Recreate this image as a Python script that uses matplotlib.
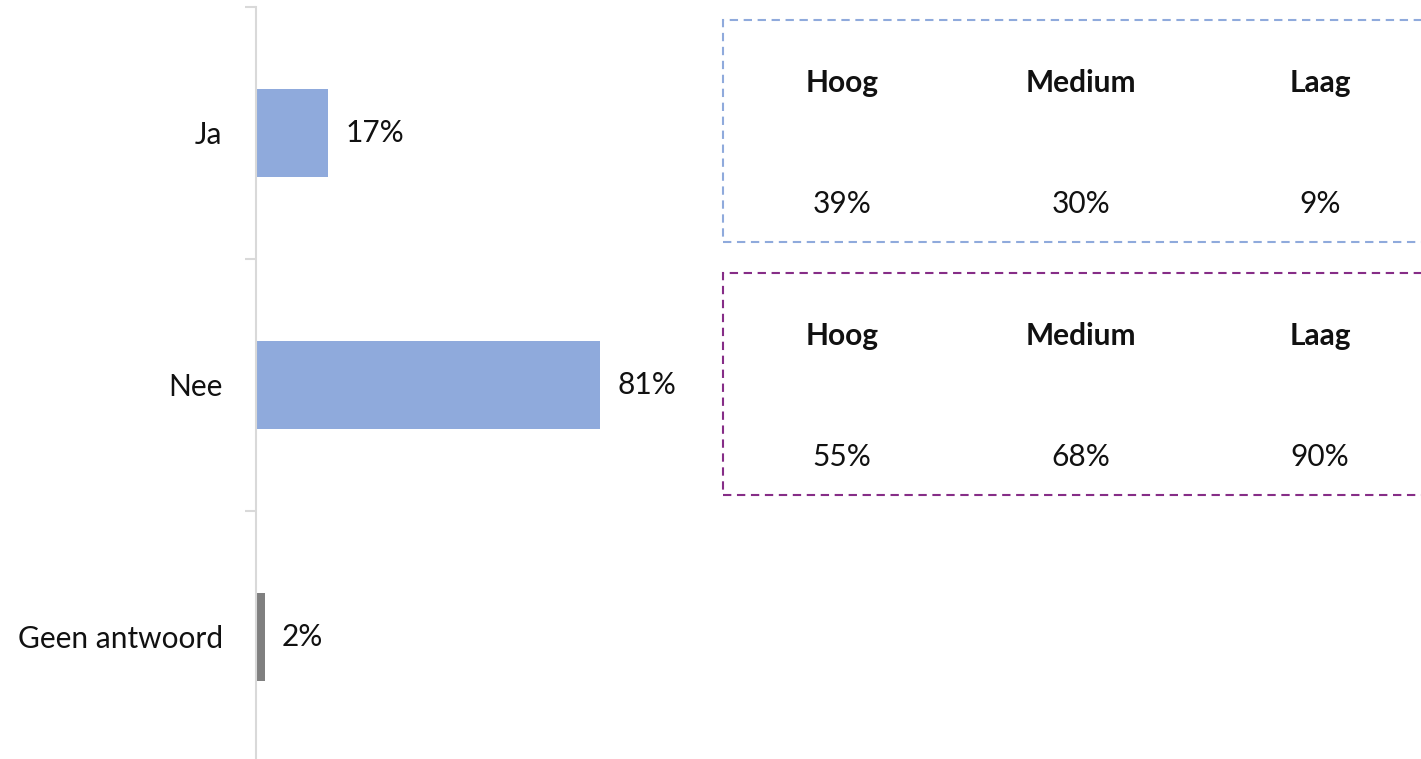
import matplotlib.pyplot as plt
from matplotlib.patches import Rectangle

plt.rcParams['font.family'] = ['Lato', 'DejaVu Sans']

categories = ['Ja', 'Nee', 'Geen antwoord']
values = [17, 81, 2]
bar_colors = ['#8FAADC', '#8FAADC', '#808080']

groups = ['Hoog', 'Medium', 'Laag']
ja_by_group = [39, 30, 9]
nee_by_group = [55, 68, 90]

W, H = 1421, 759
fig = plt.figure(figsize=(W / 100, H / 100), dpi=100)

# bar axes in pixel terms: left edge 256, 4.25 px per percent, bands of 252 px
ax_left, ax_w = 256, 425
ax_top, ax_bot = 7, 763
ax = fig.add_axes([ax_left / W, (H - ax_bot) / H, ax_w / W, (ax_bot - ax_top) / H])
ax.set_xlim(0, 100)
ax.set_ylim(2.5, -0.5)

ypos = list(range(len(categories)))
ax.barh(ypos, values, height=0.353, color=bar_colors)
for y, v in zip(ypos, values):
    ax.text(v + 4, y, f'{v}%', va='center', ha='left', fontsize=21.5, color='#111111')

for side in ['top', 'right', 'bottom']:
    ax.spines[side].set_visible(False)
ax.spines['left'].set_color('#D9D9D9')
ax.spines['left'].set_linewidth(1.5)
ax.set_xticks([])
ax.set_yticks([-0.5, 0.5, 1.5, 2.5], minor=False)
ax.set_yticklabels([])
ax.tick_params(axis='y', length=8, color='#D9D9D9', width=1.5)
ax.set_yticks(ypos, minor=True)
ax.set_yticklabels(categories, minor=True, fontsize=21.5, color='#111111')
ax.tick_params(axis='y', which='minor', length=0, pad=24)


def draw_box(top, bottom, color, numbers):
    x0 = 723
    rect = Rectangle((x0 / W, (H - bottom) / H), (W + 30 - x0) / W, (bottom - top) / H,
                     transform=fig.transFigure, fill=False, edgecolor=color,
                     linewidth=1.5, linestyle=(0, (4, 2.7)), clip_on=False)
    fig.add_artist(rect)
    col_x = [842, 1081, 1320]
    for cx, g, n in zip(col_x, groups, numbers):
        fig.text(cx / W, 1 - (top + 63) / H, g, ha='center', va='center',
                 fontsize=21.5, fontweight='bold', color='#111111')
        fig.text(cx / W, 1 - (top + 184) / H, f'{n}%', ha='center', va='center',
                 fontsize=21.5, color='#111111')


draw_box(20, 242, '#8FAADC', ja_by_group)
draw_box(273, 495, '#862D87', nee_by_group)

fig.savefig('out.png', dpi=100)
